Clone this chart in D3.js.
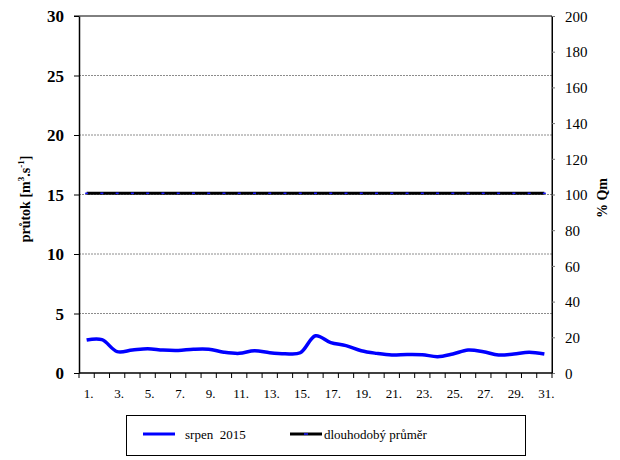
<!DOCTYPE html>
<html><head><meta charset="utf-8">
<script src="https://cdn.jsdelivr.net/npm/d3@7/dist/d3.min.js"></script></head>
<body style="margin:0">
<svg id="chart" width="620" height="460"></svg>
<script>
// Daily discharge, August 2015 (m3/s)
const days = d3.range(1, 32);
const dayLabels = days.map(d => d + ".");
const flow2015 = [2.77, 2.8, 1.8, 1.93, 2.04, 1.93, 1.9, 2.0, 2.0, 1.75,
                  1.65, 1.87, 1.7, 1.62, 1.7, 3.13, 2.55, 2.3, 1.87, 1.65,
                  1.51, 1.56, 1.54, 1.37, 1.6, 1.93, 1.79, 1.51, 1.6, 1.74, 1.6];
const longTermMean = 15.1;
const leftTicks = [0, 5, 10, 15, 20, 25, 30];
const rightTicks = [0, 20, 40, 60, 80, 100, 120, 140, 160, 180, 200];
const seriesNames = ["srpen  2015", "dlouhodobý průměr"];

const FONT = "Liberation Serif";
const svg = d3.select("#chart");
const m = { left: 79, right: 552, top: 16, bottom: 373 };

const x = d3.scaleBand().domain(days).range([m.left, m.right]);
const y = d3.scaleLinear().domain([0, 30]).range([m.bottom, m.top]);
const yPct = d3.scaleLinear().domain([0, 200]).range([m.bottom, m.top]);
const cx = d => x(d) + x.bandwidth() / 2;

// gridlines
svg.append("g")
  .selectAll("line")
  .data(leftTicks.filter(t => t > 0 && t < 30))
  .join("line")
  .attr("x1", m.left).attr("x2", m.right)
  .attr("y1", d => y(d)).attr("y2", d => y(d))
  .attr("stroke", "#8c8c8c").attr("stroke-width", 1)
  .attr("stroke-dasharray", "2,1");

// frame: top and right border
svg.append("line").attr("x1", m.left - 5).attr("x2", m.right)
  .attr("y1", m.top).attr("y2", m.top).attr("stroke", "#000");
svg.append("line").attr("x1", m.right).attr("x2", m.right)
  .attr("y1", m.top).attr("y2", m.bottom).attr("stroke", "#000");

// left axis
const gLeft = svg.append("g").attr("transform", `translate(${m.left},0)`)
  .call(d3.axisLeft(y).tickValues(leftTicks).tickSize(5).tickSizeOuter(0).tickPadding(10));
gLeft.select(".domain").attr("stroke", "#000").attr("stroke-width", 1.5);
gLeft.selectAll(".tick line").attr("stroke", "#000");
gLeft.selectAll("text").style("font-family", FONT).style("font-weight", "bold")
  .style("font-size", "17px").attr("fill", "#000").attr("dy", "0.35em");

// right axis
const gRight = svg.append("g").attr("transform", `translate(${m.right},0)`)
  .call(d3.axisRight(yPct).tickValues(rightTicks).tickSize(3).tickSizeOuter(0).tickPadding(10));
gRight.select(".domain").attr("stroke", "#000");
gRight.selectAll(".tick line").attr("stroke", "#777");
gRight.selectAll("text").style("font-family", FONT).style("font-size", "15px")
  .attr("fill", "#000").attr("dy", "0.35em");

// x axis with ticks at band boundaries
const gx = svg.append("g").attr("transform", `translate(0,${m.bottom})`);
gx.append("line").attr("x1", m.left).attr("x2", m.right).attr("stroke", "#000").attr("stroke-width", 1.5);
gx.selectAll("line.tk").data(days.concat([32])).join("line").attr("class", "tk")
  .attr("x1", d => d <= 31 ? x(d) : m.right).attr("x2", d => d <= 31 ? x(d) : m.right)
  .attr("y1", 0).attr("y2", 5).attr("stroke", "#000");
gx.selectAll("text").data(days.filter(d => d % 2 === 1)).join("text")
  .attr("x", d => cx(d) + 2).attr("y", 25)
  .style("font-family", FONT).style("font-size", "13px")
  .attr("text-anchor", "middle").attr("fill", "#000")
  .text(d => dayLabels[d - 1]);

// long-term mean line
const meanData = days.map(d => ({ d, v: longTermMean }));
const line = d3.line().x(p => cx(p.d)).y(p => y(p.v));
svg.append("path").datum(meanData).attr("d", line)
  .attr("fill", "none").attr("stroke", "#000").attr("stroke-width", 3);
svg.append("g").selectAll("line").data(meanData).join("line")
  .attr("x1", p => cx(p.d) - 1.5).attr("x2", p => cx(p.d) + 1.5)
  .attr("y1", p => y(p.v)).attr("y2", p => y(p.v))
  .attr("stroke", "#1a1aff").attr("stroke-width", 1.5);

// daily flow line
const flowData = days.map((d, i) => ({ d, v: flow2015[i] }));
svg.append("path").datum(flowData)
  .attr("d", d3.line().x(p => cx(p.d)).y(p => y(p.v)).curve(d3.curveCatmullRom.alpha(0.5)))
  .attr("fill", "none").attr("stroke", "#0000ff").attr("stroke-width", 3.5)
  .attr("stroke-linejoin", "round");

// axis titles
const lt = svg.append("text").attr("transform", "translate(30,199) rotate(-90)")
  .style("font-family", FONT).style("font-weight", "bold").style("font-size", "14px")
  .attr("text-anchor", "middle").attr("fill", "#000");
lt.append("tspan").text("průtok [m");
lt.append("tspan").style("font-size", "9px").attr("dy", -6).text("3");
lt.append("tspan").attr("dy", 6).text(".s");
lt.append("tspan").style("font-size", "9px").attr("dy", -6).text("-1");
lt.append("tspan").attr("dy", 6).text("]");

svg.append("text").attr("transform", "translate(607,198) rotate(-90)")
  .style("font-family", FONT).style("font-weight", "bold").style("font-size", "14px")
  .attr("text-anchor", "middle").attr("fill", "#000")
  .text("% Qm");

// legend
const lg = svg.append("g");
lg.append("rect").attr("x", 126.5).attr("y", 415.5).attr("width", 399).attr("height", 40)
  .attr("fill", "#fff").attr("stroke", "#000");
lg.append("line").attr("x1", 143).attr("x2", 175).attr("y1", 434).attr("y2", 434)
  .attr("stroke", "#0000ff").attr("stroke-width", 3);
lg.append("text").attr("x", 185).attr("y", 438.5).attr("fill", "#000")
  .style("font-family", FONT).style("font-size", "13px").style("white-space", "pre")
  .text(seriesNames[0]);
lg.append("line").attr("x1", 290).attr("x2", 322).attr("y1", 434).attr("y2", 434)
  .attr("stroke", "#000").attr("stroke-width", 3);
lg.append("line").attr("x1", 304).attr("x2", 308).attr("y1", 434).attr("y2", 434)
  .attr("stroke", "#1a1aff").attr("stroke-width", 1.5);
lg.append("text").attr("x", 324).attr("y", 438.5).attr("fill", "#000")
  .style("font-family", FONT).style("font-size", "13px")
  .text(seriesNames[1]);
</script>
</body>
</html>
